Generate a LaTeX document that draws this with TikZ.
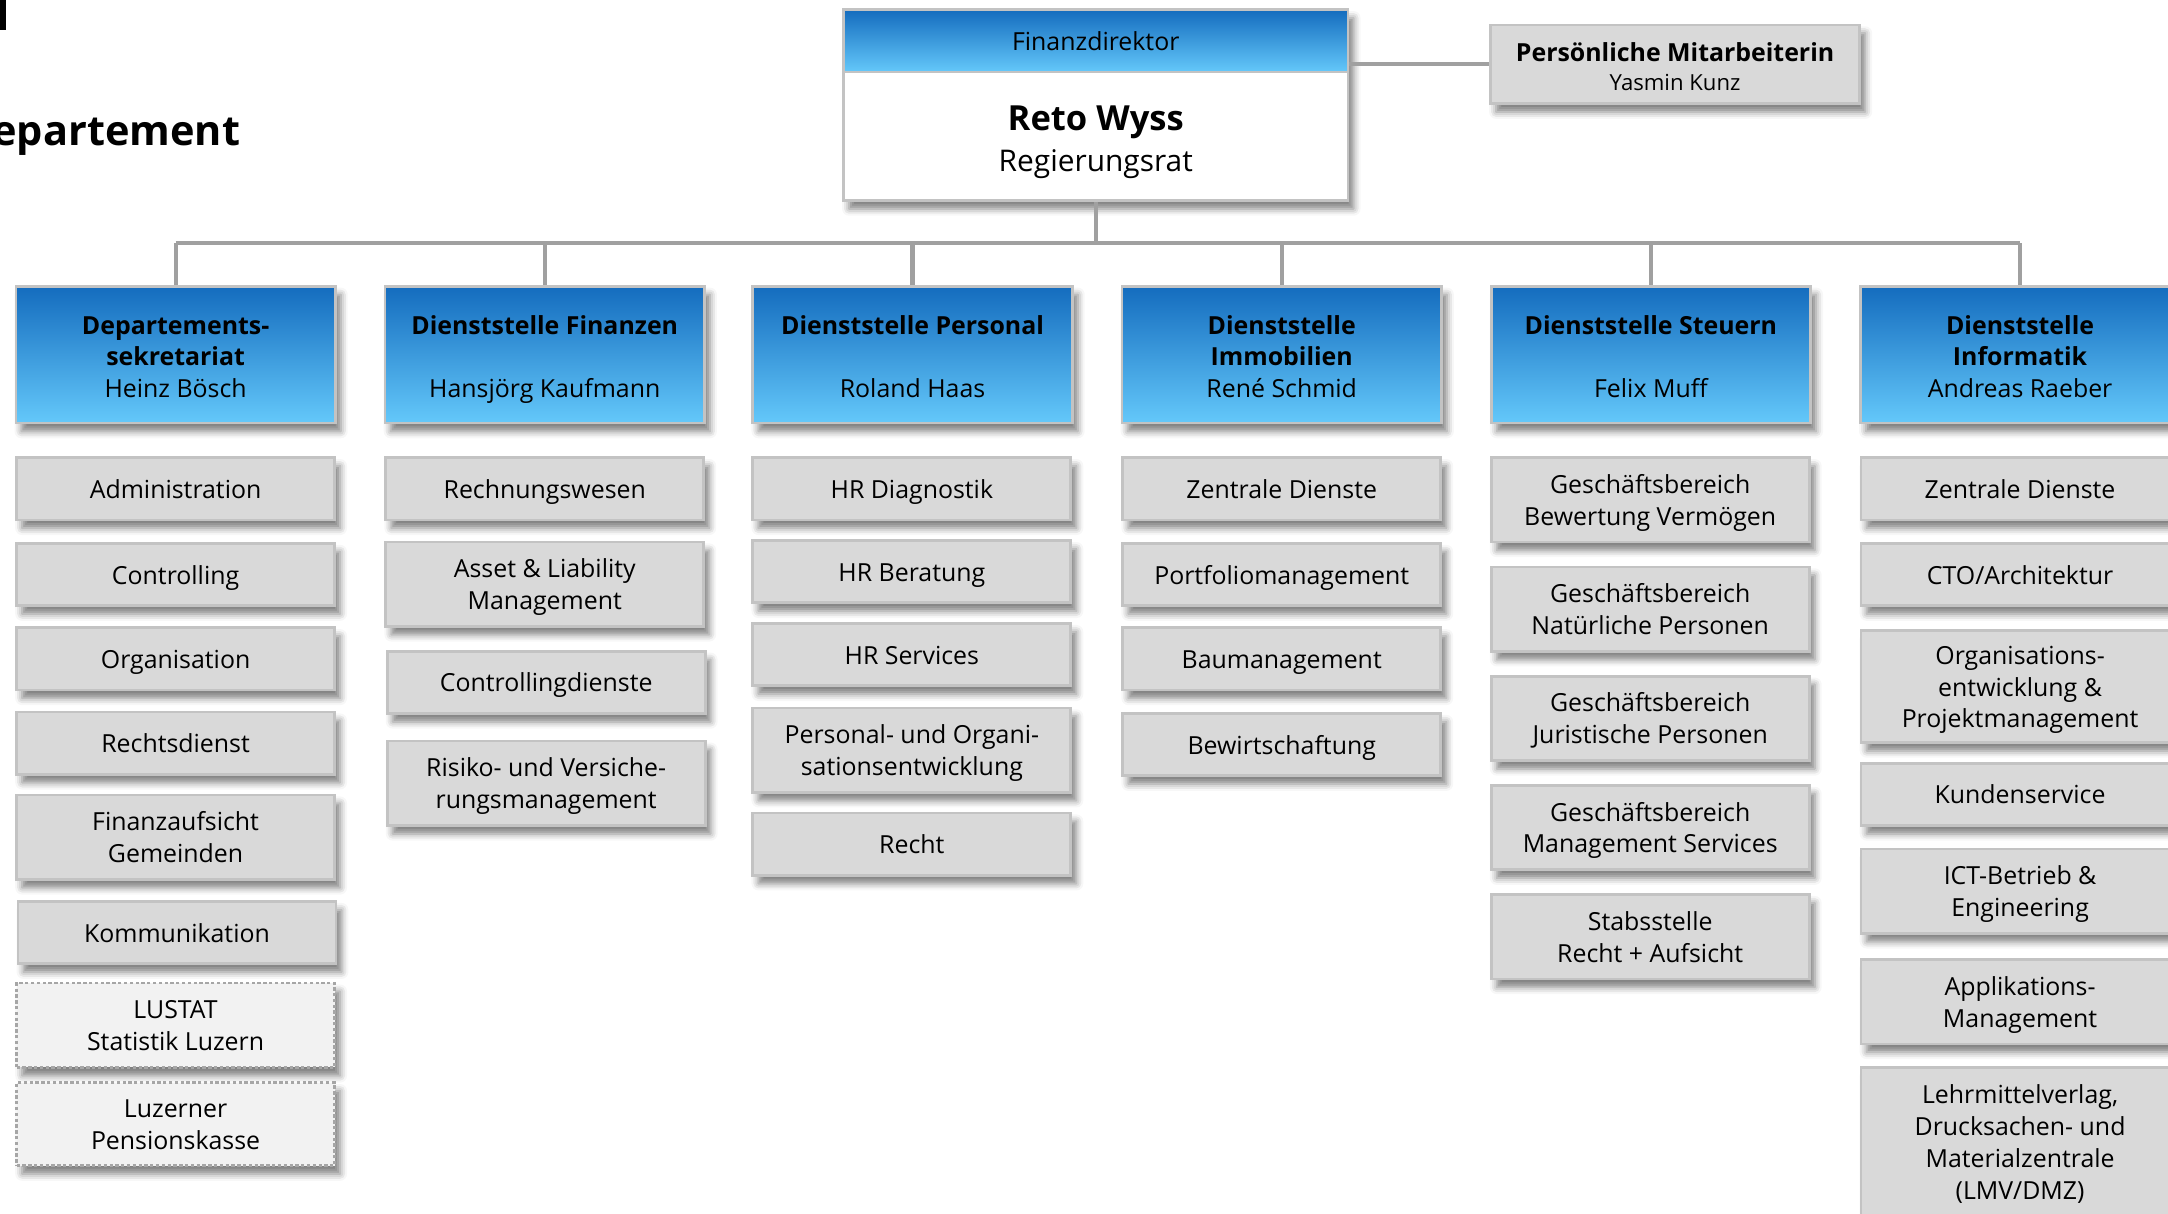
\documentclass[tikz,border=0pt]{standalone}
\usepackage{fontspec}
\setmainfont{Open Sans}
\usetikzlibrary{shadows.blur}
\definecolor{blueT}{RGB}{20,108,190}
\definecolor{blueB}{RGB}{100,200,250}
\definecolor{bord}{RGB}{195,195,195}
\definecolor{subfill}{RGB}{217,217,217}
\definecolor{dotfill}{RGB}{242,242,242}
\definecolor{connc}{RGB}{160,160,160}
\newcommand\FirstStrut{\rule{0pt}{9.4pt}}
\newcommand\DeptStrut{\rule{0pt}{10.6pt}}
\tikzset{
 shad/.style={blur shadow={shadow xshift=2pt, shadow yshift=-3pt, shadow blur radius=2.5pt, shadow opacity=50}},
 fixstrut/.style={execute at begin node={\rule{0pt}{9.4pt}}, execute at end node={\rule[-2.5pt]{0pt}{0pt}}},
 connline/.style={draw=connc, line width=1.5pt},
 deptbox/.style={shad, fixstrut, draw=bord, line width=1pt, top color=blueT, bottom color=blueB, minimum width=115.5pt, minimum height=49.5pt, align=center, inner sep=0pt, font=\fontsize{9}{11.5}\selectfont},
 subbox/.style={shad, fixstrut, draw=bord, line width=1pt, fill=subfill, minimum width=115pt, minimum height=22.5pt, align=center, inner sep=0pt, font=\fontsize{9}{11.5}\selectfont},
 twoline/.style={minimum height=30.5pt},
 extbox/.style={subbox, fill=dotfill, draw=black!35, dash pattern=on 1.2pt off 0.9pt},
}
\begin{document}
\begin{tikzpicture}[x=0.5pt,y=-0.5pt]
\useasboundingbox (0,0) rectangle (1568,878);
% title fragments
\fill (0,0) rectangle (4,22);
\node[anchor=base east, font=\fontsize{15}{18}\selectfont\bfseries, inner sep=0] (title) at (174,105) {epartement};

% Finanzdirektor
\node[shad, draw=bord, line width=1pt, fill=white, minimum width=182.5pt, minimum height=69pt, inner sep=0] (fd) at (792.5,76) {};
\node[fixstrut, draw=bord, line width=1pt, top color=blueT, bottom color=blueB, minimum width=182.5pt, minimum height=22.5pt, inner sep=0, font=\fontsize{9}{11.5}\selectfont] (fdh) at (792.5,29.5) {Finanzdirektor};
\node[align=center, inner sep=0, font=\fontsize{10.8}{15}\selectfont] (fdn) at (792.5,103) {{\fontsize{12.5}{15}\selectfont\bfseries Reto Wyss}\\Regierungsrat};

\node[subbox, minimum width=133.5pt, minimum height=28.5pt, font=\fontsize{9}{10.5}\selectfont] (pm) at (1211.5,46.5) {\rule{0pt}{11.2pt}\textbf{Persönliche Mitarbeiterin}\\{\fontsize{8}{10.5}\selectfont Yasmin Kunz}};

% departments
\node[deptbox] (d1) at (127,256.5) {\DeptStrut\textbf{Departements-}\\\textbf{sekretariat}\\Heinz Bösch};
\node[deptbox] (d2) at (394,256.5) {\DeptStrut\textbf{Dienststelle Finanzen}\\[11.5pt]Hansjörg Kaufmann};
\node[deptbox] (d3) at (660,256.5) {\DeptStrut\textbf{Dienststelle Personal}\\[11.5pt]Roland Haas};
\node[deptbox] (d4) at (927,256.5) {\DeptStrut\textbf{Dienststelle}\\\textbf{Immobilien}\\René Schmid};
\node[deptbox] (d5) at (1194,256.5) {\DeptStrut\textbf{Dienststelle Steuern}\\[11.5pt]Felix Muff};
\node[deptbox] (d6) at (1461,256.5) {\DeptStrut\textbf{Dienststelle}\\\textbf{Informatik}\\Andreas Raeber};

% connectors
\coordinate (bus) at (792.5,176);
\draw[connline] (pm.west) -- (pm.west -| fd.east);
\draw[connline] (fd.south) -- (bus);
\draw[connline] (d1.north |- bus) -- (d6.north |- bus);
\foreach \d in {d1,d2,d3,d4,d5,d6} \draw[connline] (\d.north) -- (\d.north |- bus);

% column 1
\node[subbox] (a1) at (127,353.5) {Administration};
\node[subbox] (a2) at (127,415.5) {Controlling};
\node[subbox] (a3) at (127,476.5) {Organisation};
\node[subbox] (a4) at (127,537.5) {Rechtsdienst};
\node[subbox, twoline] (a5) at (127,605.5) {\FirstStrut Finanzaufsicht\\Gemeinden};
\node[subbox] (a6) at (128,674.5) {Kommunikation};
\node[extbox, twoline] (a7) at (127,741.5) {\FirstStrut LUSTAT\\Statistik Luzern};
\node[extbox, minimum height=30pt] (a8) at (127,813) {\FirstStrut Luzerner\\Pensionskasse};

% column 2
\node[subbox] (b1) at (394,353.5) {Rechnungswesen};
\node[subbox, twoline] (b2) at (394,422.5) {\FirstStrut Asset \& Liability\\Management};
\node[subbox] (b3) at (395,493.5) {Controllingdienste};
\node[subbox, twoline] (b4) at (395,566.5) {\FirstStrut Risiko- und Versiche-\\rungsmanagement};

% column 3
\node[subbox] (c1) at (659.5,353.5) {HR Diagnostik};
\node[subbox] (c2) at (659.5,413.5) {HR Beratung};
\node[subbox] (c3) at (659.5,473.5) {HR Services};
\node[subbox, twoline] (c4) at (659.5,542.5) {\FirstStrut Personal- und Organi-\\sationsentwicklung};
\node[subbox] (c5) at (659.5,610.5) {Recht};

% column 4
\node[subbox] (e1) at (927,353.5) {Zentrale Dienste};
\node[subbox] (e2) at (927,415.5) {Portfoliomanagement};
\node[subbox] (e3) at (927,476.5) {Baumanagement};
\node[subbox] (e4) at (927,538.5) {Bewirtschaftung};

% column 5
\node[subbox, twoline] (f1) at (1193.5,361.5) {\FirstStrut Geschäftsbereich\\Bewertung Vermögen};
\node[subbox, twoline] (f2) at (1193.5,440.5) {\FirstStrut Geschäftsbereich\\Natürliche Personen};
\node[subbox, twoline] (f3) at (1193.5,519.5) {\FirstStrut Geschäftsbereich\\Juristische Personen};
\node[subbox, twoline] (f4) at (1193.5,598.5) {\FirstStrut Geschäftsbereich\\Management Services};
\node[subbox, twoline] (f5) at (1193.5,677.5) {\FirstStrut Stabsstelle\\Recht + Aufsicht};

% column 6
\node[subbox] (g1) at (1461,353.5) {Zentrale Dienste};
\node[subbox] (g2) at (1461,415.5) {CTO/Architektur};
\node[subbox, minimum height=40.5pt] (g3) at (1461,496.5) {\FirstStrut Organisations-\\entwicklung \&\\Projektmanagement};
\node[subbox] (g4) at (1461,574.5) {Kundenservice};
\node[subbox, twoline] (g5) at (1461,644.5) {\FirstStrut ICT-Betrieb \&\\Engineering};
\node[subbox, twoline] (g6) at (1461,724.5) {\FirstStrut Applikations-\\Management};
\node[subbox, minimum height=54pt] (g7) at (1461,826) {\FirstStrut Lehrmittelverlag,\\Drucksachen- und\\Materialzentrale\\(LMV/DMZ)};
\end{tikzpicture}
\end{document}
